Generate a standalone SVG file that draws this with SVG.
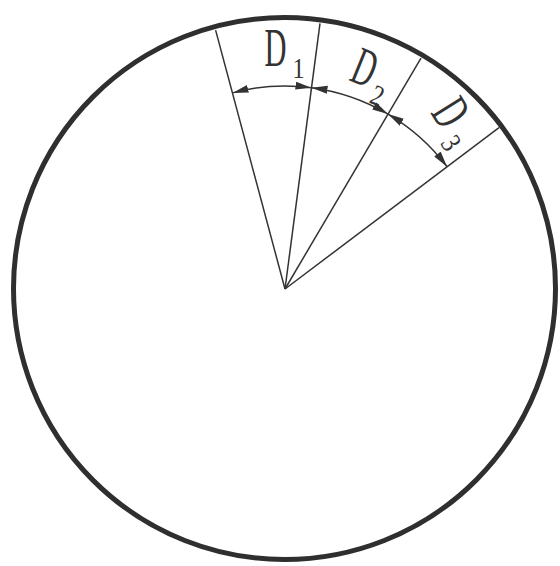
<svg xmlns="http://www.w3.org/2000/svg" width="560" height="566" viewBox="0 0 560 566">
  <style>
    .rim { fill: none; stroke: #2f2f2f; stroke-width: 5; }
    .ext { fill: none; stroke: #333; stroke-width: 1.5; }
    .dim { fill: none; stroke: #333; stroke-width: 1.5; marker-start: url(#arr); marker-end: url(#arr); }
    .lbl { font-family: "Liberation Serif", "Times New Roman", serif; font-size: 54px; fill: #333; }
    .sub { font-size: 29px; }
  </style>
  <defs>
    <marker id="arr" markerUnits="userSpaceOnUse" viewBox="0 0 16 9" markerWidth="16" markerHeight="9" refX="16" refY="4.5" orient="auto-start-reverse">
      <path d="M0,0.5 L16,4.5 L0,8.5 Z" fill="#333"/>
    </marker>
  </defs>
  <rect width="560" height="566" fill="#ffffff"/>
  <g id="circle">
    <circle class="rim" cx="284.5" cy="288.5" r="271"/>
  </g>
  <g id="radii">
    <line class="ext" x1="285" y1="289" x2="215.6" y2="30.1"/>
    <line class="ext" x1="285" y1="289" x2="320.0" y2="23.3"/>
    <line class="ext" x1="285" y1="289" x2="421.0" y2="58.1"/>
    <line class="ext" x1="285" y1="289" x2="499.0" y2="127.7"/>
  </g>
  <g id="connectors">
    <path id="dim-D1" class="dim" d="M232.5,92.9 A203,203 0 0 1 311.5,87.7"/>
    <path id="dim-D2" class="dim" d="M311.5,87.7 A203,203 0 0 1 388.0,114.1"/>
    <path id="dim-D3" class="dim" d="M388.0,114.1 A203,203 0 0 1 447.1,166.8"/>
  </g>
  <g id="label-D1">
    <text class="lbl" transform="translate(264.5,66)"><tspan textLength="22" lengthAdjust="spacingAndGlyphs">D</tspan><tspan class="sub" dx="6" dy="12" textLength="12" lengthAdjust="spacingAndGlyphs">1</tspan></text>
  </g>
  <g id="label-D2">
    <text class="lbl" transform="translate(348,80) rotate(22)"><tspan textLength="22" lengthAdjust="spacingAndGlyphs">D</tspan><tspan class="sub" dx="5" dy="13" textLength="12" lengthAdjust="spacingAndGlyphs">2</tspan></text>
  </g>
  <g id="label-D3">
    <text class="lbl" transform="translate(430,112.5) rotate(58)"><tspan textLength="22" lengthAdjust="spacingAndGlyphs">D</tspan><tspan class="sub" dx="9" dy="8" textLength="12" lengthAdjust="spacingAndGlyphs">3</tspan></text>
  </g>
</svg>
